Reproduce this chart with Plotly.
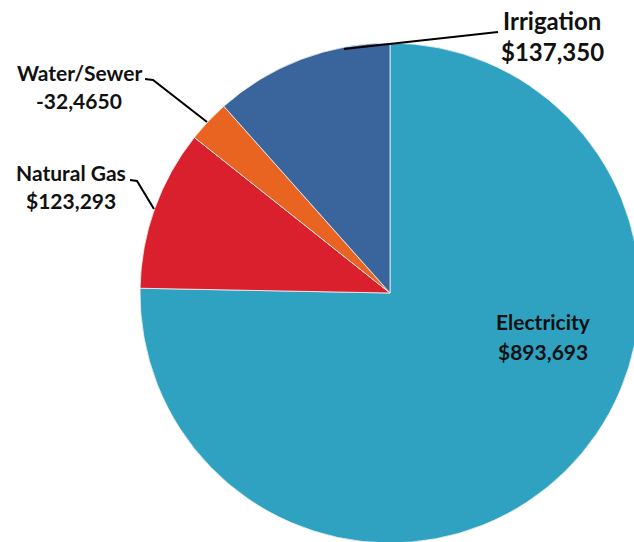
import plotly.graph_objects as go

# slice data (clockwise from 12 o'clock)
labels = ["Electricity", "Natural Gas", "Water/Sewer", "Irrigation"]
values = [893693, 123293, 32465, 137350]
value_text = ["$893,693", "$123,293", "-32,4650", "$137,350"]
colors = ["#2EA2C0", "#DA202D", "#E96421", "#3A649C"]

# canvas a bit larger than the window so the pie gets cut at right/bottom
W, H = 650, 550


def px_x(x):
    return x / W


def px_y(y):
    return 1 - y / H


fig = go.Figure(go.Pie(
    labels=labels,
    values=values,
    sort=False,
    direction="clockwise",
    rotation=0,
    textinfo="none",
    hoverinfo="label+value",
    marker=dict(colors=colors, line=dict(color="#f4f4f4", width=0.8)),
    domain=dict(x=[px_x(140), px_x(640)], y=[px_y(543), px_y(43)]),
    showlegend=False,
))

font = dict(family="Lato, 'Open Sans', sans-serif", color="#111111")

# (center x, y label line, y value line, size)
label_pos = {
    "Electricity": (543, 321, 351, 21),
    "Natural Gas": (71, 172, 200, 21),
    "Water/Sewer": (79, 73, 100, 21),
    "Irrigation": (552, 20, 51, 24),
}
for lab, val in zip(labels, value_text):
    cx, y1, y2, sz = label_pos[lab]
    for txt, yy in ((lab, y1), (val, y2)):
        fig.add_annotation(
            x=px_x(cx), y=px_y(yy), xref="paper", yref="paper",
            text="<b>%s</b>" % txt, showarrow=False,
            xanchor="center", yanchor="middle",
            font=dict(size=sz, **font),
        )

# leader lines
leaders = [
    [(498, 32), (344, 49)],
    [(145, 79), (153, 80), (207, 122)],
    [(130, 180), (137, 181), (154, 209)],
]
for pts in leaders:
    path = "M " + " L ".join("%.4f,%.4f" % (px_x(a), px_y(b)) for a, b in pts)
    fig.add_shape(type="path", path=path, xref="paper", yref="paper",
                  line=dict(color="#000000", width=2))

fig.update_layout(
    width=W, height=H,
    margin=dict(l=0, r=0, t=0, b=0),
    paper_bgcolor="white",
    plot_bgcolor="white",
)

fig.write_html(
    "out.html",
    config={"displayModeBar": False},
    post_script="document.documentElement.style.overflow='hidden';document.body.style.overflow='hidden';document.body.style.margin='0';",
)
